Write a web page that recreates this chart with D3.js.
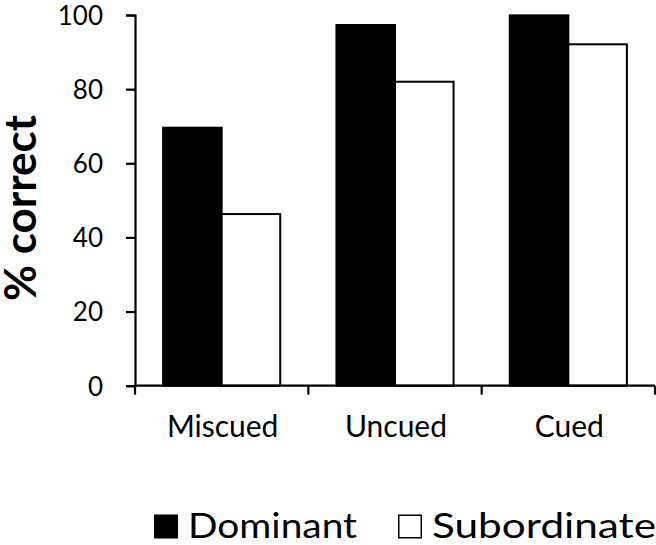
<!DOCTYPE html>
<html><head><meta charset="utf-8">
<script src="https://cdn.jsdelivr.net/npm/d3@7"></script>
<style>body{margin:0;background:#fff}svg{display:block}text{font-family:Lato,"Open Sans",sans-serif;fill:#000}</style>
</head><body>
<svg id="c" width="656" height="545"></svg>
<script>
const categories = ["Miscued", "Uncued", "Cued"];
const series = ["Dominant", "Subordinate"];
const dominant = [69.6, 97.3, 99.9];
const subordinate = [46.3, 82.0, 92.1];
const yTicks = [0, 20, 40, 60, 80, 100];

const svg = d3.select("#c");
const x0 = 135, x1 = 655, yb = 385.7, yt = 15;
const x = d3.scaleBand().domain(categories).range([x0, x1]).paddingInner(0).paddingOuter(0);
const xs = d3.scaleBand().domain(series).range([0, x.bandwidth()]).paddingOuter(0.48).paddingInner(0);
const y = d3.scaleLinear().domain([0, 100]).range([yb, yt]);
const fills = {Dominant: "#000", Subordinate: "#fff"};
const data = categories.map((c, i) => ({c, vals: [{s: "Dominant", v: dominant[i]}, {s: "Subordinate", v: subordinate[i]}]}));

const g = svg.append("g");
g.selectAll("g.cat").data(data).join("g").attr("class", "cat")
  .attr("transform", d => `translate(${x(d.c)},0)`)
  .selectAll("rect").data(d => d.vals).join("rect")
  .attr("x", d => xs(d.s)).attr("width", xs.bandwidth())
  .attr("y", d => y(d.v)).attr("height", d => y(0) - y(d.v))
  .attr("fill", d => fills[d.s]).attr("stroke", "#000").attr("stroke-width", 2);

// y axis
const ya = svg.append("g").attr("transform", `translate(${x0},0)`)
  .call(d3.axisLeft(y).tickValues(yTicks).tickSize(9).tickPadding(23).tickFormat(d3.format("d")));
ya.select(".domain").attr("stroke-width", 2.2);
ya.selectAll(".tick line").attr("stroke-width", 2.2);
ya.selectAll(".tick text").attr("font-size", 26).attr("font-family", "Lato").attr("dy", "0.36em");

// x axis
const xa = svg.append("g").attr("transform", `translate(0,${yb})`);
xa.append("line").attr("x1", x0).attr("x2", x1).attr("stroke", "#000").attr("stroke-width", 2.2);
const bounds = [x0].concat(categories.map(c => x(c) + x.bandwidth()));
xa.selectAll("line.t").data(bounds).join("line").attr("class", "t")
  .attr("x1", d => d).attr("x2", d => d).attr("y1", 0).attr("y2", 9)
  .attr("stroke", "#000").attr("stroke-width", 2.2);
xa.selectAll("text").data(categories).join("text")
  .attr("x", d => x(d) + x.bandwidth() / 2 + 1).attr("y", 51)
  .attr("text-anchor", "middle").attr("font-size", 30).text(d => d);

// y title
svg.append("text").attr("transform", "translate(36,208) rotate(-90)")
  .attr("text-anchor", "middle").attr("font-size", 44).attr("font-weight", "bold").text("% correct");

// legend
const leg = svg.append("g");
const legX = [154, 398];
const legW = [169, 224];
series.forEach((s, i) => {
  leg.append("rect").attr("x", legX[i] + 0.75).attr("y", 515.25).attr("width", 22.5).attr("height", 22.5)
    .attr("fill", fills[s]).attr("stroke", "#000").attr("stroke-width", 1.5);
  leg.append("text").attr("x", legX[i] + 34).attr("y", 538).attr("font-size", 35)
    .attr("textLength", legW[i]).attr("lengthAdjust", "spacingAndGlyphs").text(s);
});
</script>
</body></html>
